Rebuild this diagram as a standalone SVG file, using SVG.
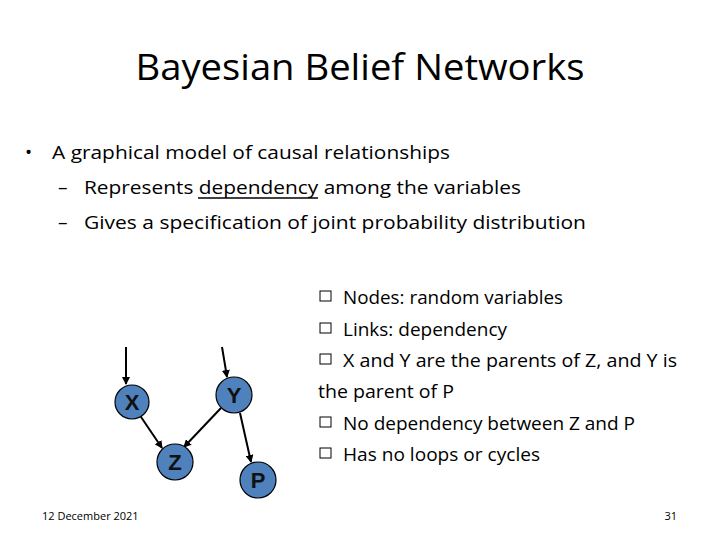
<svg xmlns="http://www.w3.org/2000/svg" width="720" height="540" viewBox="0 0 720 540">
<defs>
<marker id="ah" markerWidth="8" markerHeight="8" refX="7" refY="4" orient="auto" markerUnits="userSpaceOnUse"><path d="M0,0 L8,4 L0,8 z" fill="#000"/></marker>
<style>
text{font-family:"Open Sans","Liberation Sans",sans-serif;fill:#000}
.b{font-size:19px}
.n circle{fill:#4f81bd;stroke:#000;stroke-width:1.2}
.n text{font-family:"Liberation Sans",sans-serif;font-weight:bold;font-size:22px;text-anchor:middle;fill:#111}
.e line{stroke:#000;stroke-width:2;marker-end:url(#ah)}
.sq{fill:#fff;stroke:#000;stroke-width:1}
</style>
</defs>
<rect width="720" height="540" fill="#fff"/>
<text x="360" y="80" font-size="37" text-anchor="middle" textLength="449" lengthAdjust="spacingAndGlyphs">Bayesian Belief Networks</text>
<text x="25" y="159" class="b">•</text>
<text x="52" y="159" class="b" textLength="398" lengthAdjust="spacingAndGlyphs">A graphical model of causal relationships</text>
<text x="58" y="194" class="b">–</text>
<text x="84" y="194" class="b" textLength="437" lengthAdjust="spacingAndGlyphs">Represents dependency among the variables</text>
<line x1="198" y1="198" x2="318" y2="198" stroke="#000" stroke-width="1.5"/>
<text x="58" y="229" class="b">–</text>
<text x="84" y="229" class="b" textLength="502" lengthAdjust="spacingAndGlyphs">Gives a specification of joint probability distribution</text>
<g class="e">
<line x1="126" y1="347" x2="126" y2="384"/>
<line x1="222" y1="347" x2="227" y2="377"/>
<line x1="139" y1="414" x2="162" y2="448"/>
<line x1="221" y1="408" x2="184" y2="447"/>
<line x1="240" y1="413" x2="251" y2="462"/>
</g>
<g class="n" id="X"><circle cx="132" cy="402" r="17"/><text x="132" y="410">X</text></g>
<g class="n" id="Y"><circle cx="234" cy="395" r="18"/><text x="234" y="403">Y</text></g>
<g class="n" id="Z"><circle cx="175" cy="462" r="18"/><text x="175" y="470">Z</text></g>
<g class="n" id="P"><circle cx="258" cy="480" r="18"/><text x="258" y="488">P</text></g>
<g>
<rect class="sq" x="320" y="291" width="11" height="10"/>
<rect class="sq" x="320" y="323" width="11" height="10"/>
<rect class="sq" x="320" y="354" width="11" height="10"/>
<rect class="sq" x="320" y="417" width="11" height="10"/>
<rect class="sq" x="320" y="448" width="11" height="10"/>
<text x="343" y="304" class="b" textLength="220" lengthAdjust="spacingAndGlyphs">Nodes: random variables</text>
<text x="343" y="336" class="b" textLength="164" lengthAdjust="spacingAndGlyphs">Links: dependency</text>
<text x="343" y="367" class="b" textLength="334" lengthAdjust="spacingAndGlyphs">X and Y are the parents of Z, and Y is</text>
<text x="318" y="398" class="b" textLength="136" lengthAdjust="spacingAndGlyphs">the parent of P</text>
<text x="343" y="430" class="b" textLength="292" lengthAdjust="spacingAndGlyphs">No dependency between Z and P</text>
<text x="343" y="461" class="b" textLength="197" lengthAdjust="spacingAndGlyphs">Has no loops or cycles</text>
</g>
<text x="42" y="520" font-size="11" fill="#555">12 December 2021</text>
<text x="677" y="520" font-size="11" text-anchor="end">31</text>
</svg>
